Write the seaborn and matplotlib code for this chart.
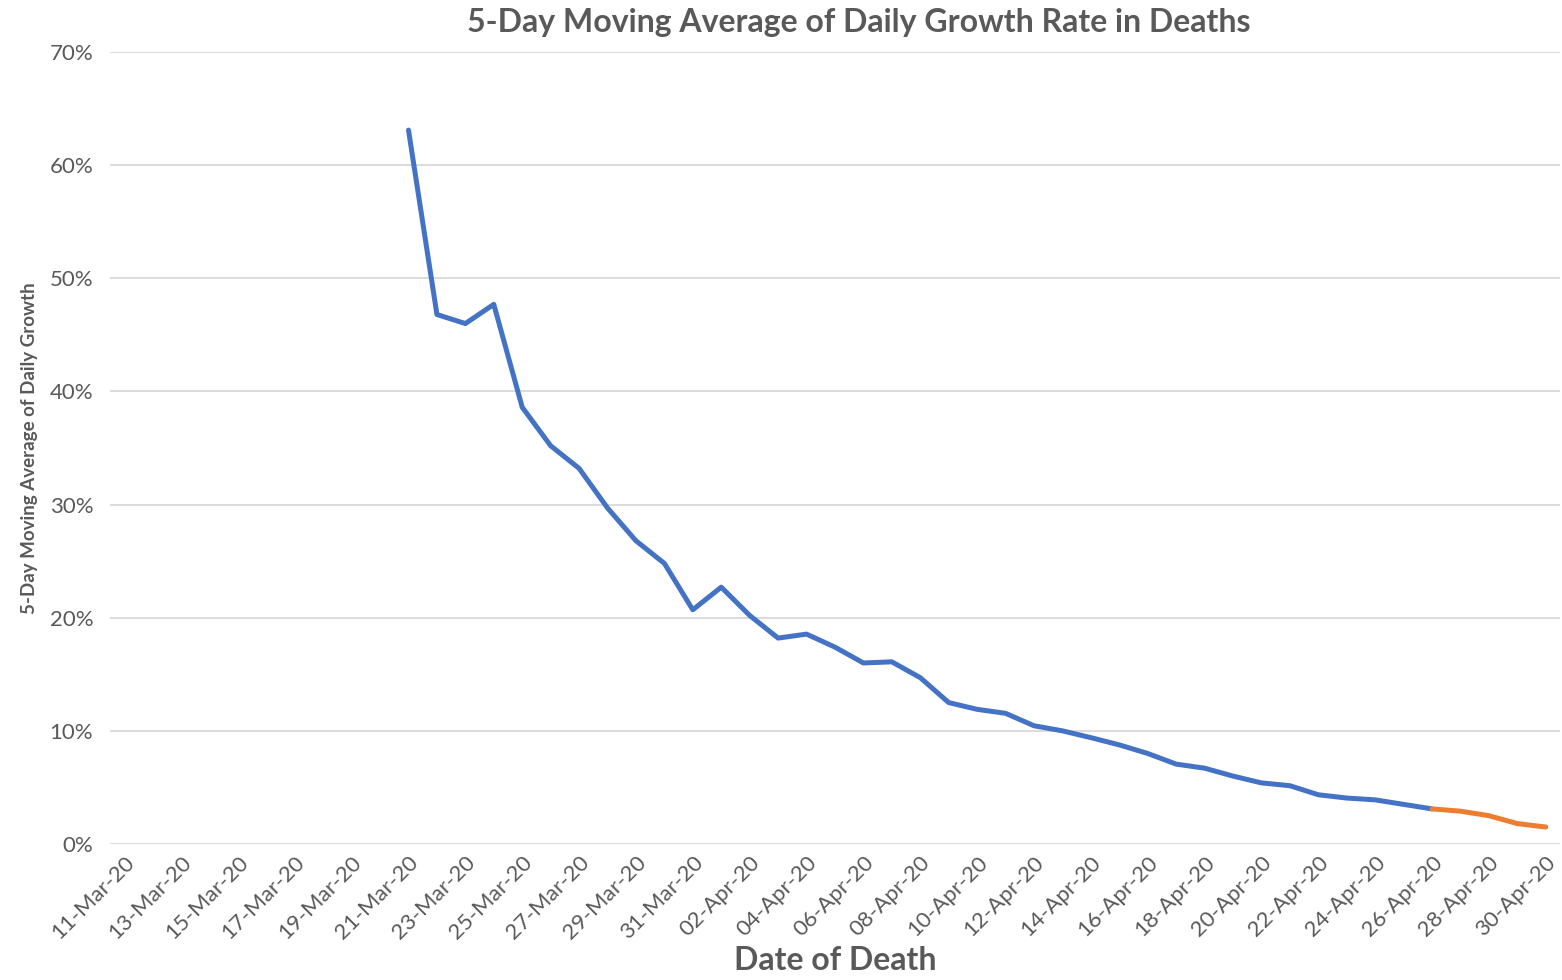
import pandas as pd
import numpy as np
import seaborn as sns
import matplotlib.pyplot as plt
import matplotlib.dates as mdates
from matplotlib.ticker import PercentFormatter

# =========================
# Data: 5-day moving average of daily growth in deaths (%)
# =========================
first_day = "2020-03-21"
growth_blue = [63.1, 46.8, 46.0, 47.7, 38.6, 35.2, 33.2, 29.7, 26.8, 24.8,
               20.7, 22.7, 20.2, 18.2, 18.55, 17.4, 16.0, 16.1, 14.7, 12.5,
               11.9, 11.55, 10.45, 10.0, 9.4, 8.76, 8.0, 7.06, 6.7, 6.0,
               5.4, 5.15, 4.35, 4.06, 3.9, 3.5, 3.1]
orange_first_day = "2020-04-26"
growth_orange = [3.1, 2.9, 2.5, 1.8, 1.5]

axis_start, axis_end = "2020-03-11", "2020-04-30"

dates_blue = pd.date_range(first_day, periods=len(growth_blue), freq="D")
dates_orange = pd.date_range(orange_first_day, periods=len(growth_orange), freq="D")
df_blue = pd.DataFrame({"date": dates_blue, "growth": growth_blue})
df_orange = pd.DataFrame({"date": dates_orange, "growth": growth_orange})

# =========================
# Style
# =========================
sns.set_style("white")
plt.rcParams["font.family"] = ["Lato", "DejaVu Sans"]
grey = "#595959"

fig = plt.figure(figsize=(15.62, 9.8), dpi=100)
ax = fig.add_axes([0.0704, 0.1388, 0.9283, 0.8081])

sns.lineplot(data=df_blue, x="date", y="growth", ax=ax, color="#4472C4",
             linewidth=3.6, solid_capstyle="round")
sns.lineplot(data=df_orange, x="date", y="growth", ax=ax, color="#ED7D31",
             linewidth=3.6, solid_capstyle="round")

ax.set_ylim(0, 70)
ax.set_yticks(range(0, 71, 10))
ax.yaxis.set_major_formatter(PercentFormatter(decimals=0))
ax.set_xlim(pd.Timestamp(axis_start) - pd.Timedelta(hours=12),
            pd.Timestamp(axis_end) + pd.Timedelta(hours=12))
ax.set_xticks(pd.date_range(axis_start, axis_end, freq="2D"))
ax.xaxis.set_major_formatter(mdates.DateFormatter("%d-%b-%y"))

ax.grid(axis="y", color="#D9D9D9", linewidth=1.3)
ax.grid(axis="x", visible=False)
ax.set_axisbelow(True)
sns.despine(ax=ax, left=True, bottom=True)

ax.tick_params(axis="y", length=0, labelsize=16, labelcolor=grey, pad=12)
ax.tick_params(axis="x", length=0, labelsize=16, labelcolor=grey, pad=6)
for lab in ax.get_xticklabels():
    lab.set_rotation(45)
    lab.set_ha("right")
    lab.set_rotation_mode("anchor")

ax.set_xlabel("")
ax.set_ylabel("5-Day Moving Average of Daily Growth", fontsize=13.5,
              fontweight="bold", color=grey, labelpad=8)

fig.text(0.55, 0.977, "5-Day Moving Average of Daily Growth Rate in Deaths",
         ha="center", va="center", fontsize=23, fontweight="bold", color=grey)
fig.text(0.535, 0.02, "Date of Death", ha="center", va="center",
         fontsize=23, fontweight="bold", color=grey)

fig.savefig("out.png", dpi=100)
